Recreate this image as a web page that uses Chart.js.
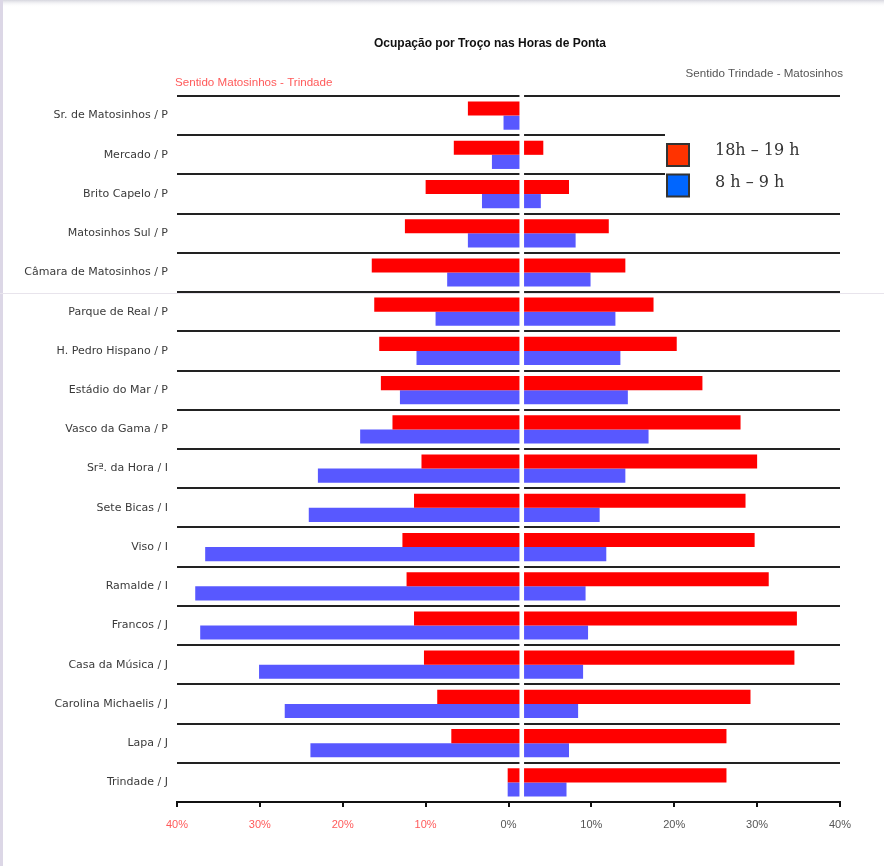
<!doctype html>
<html>

<head>
	<title>Ocupação por Troço nas Horas de Ponta</title>
	<meta charset="UTF-8">
	<script src="https://cdn.jsdelivr.net/npm/chart.js@4.4.1/dist/chart.umd.min.js"></script>
	<style>
		html, body { margin: 0; padding: 0; background: #fff; }
		canvas { display: block; }
	</style>
</head>

<body>
<canvas id="chart-area" width="884" height="866"></canvas>
<script>
	// estações (de cima para baixo)
	var stations = [
		'Sr. de Matosinhos / P', 'Mercado / P', 'Brito Capelo / P', 'Matosinhos Sul / P',
		'Câmara de Matosinhos / P', 'Parque de Real / P', 'H. Pedro Hispano / P', 'Estádio do Mar / P',
		'Vasco da Gama / P', 'Srª. da Hora / I', 'Sete Bicas / I', 'Viso / I', 'Ramalde / I',
		'Francos / J', 'Casa da Música / J', 'Carolina Michaelis / J', 'Lapa / J', 'Trindade / J'
	];

	// Sentido Matosinhos - Trindade (lado esquerdo), em %
	var peakOut    = [6.5, 8.2, 11.6, 14.1, 18.1, 17.8, 17.2, 17.0, 15.6, 12.1, 13.0, 14.4, 13.9, 13.0, 11.8, 10.2, 8.5, 1.7];
	var morningOut = [2.2, 3.6, 4.8, 6.5, 9.0, 10.4, 12.7, 14.7, 19.5, 24.6, 25.7, 38.2, 39.4, 38.8, 31.7, 28.6, 25.5, 1.7];

	// Sentido Trindade - Matosinhos (lado direito), em %
	var peakBack    = [0, 2.6, 5.7, 10.5, 12.5, 15.9, 18.7, 21.8, 26.4, 28.4, 27.0, 28.1, 29.8, 33.2, 32.9, 27.6, 24.7, 24.7];
	var morningBack = [0, 0, 2.3, 6.5, 8.3, 11.3, 11.9, 12.8, 15.3, 12.5, 9.4, 10.2, 7.7, 8.0, 7.4, 6.8, 5.7, 5.4];

	var seriesNames = ['18h – 19 h', '8 h – 9 h'];
	var tickValues = [-40, -30, -20, -10, 0, 10, 20, 30, 40];
	var tickLabels = ['40%', '30%', '20%', '10%', '0%', '10%', '20%', '30%', '40%'];

	var neg = function (v) { return -v; };

	// moldura, título, gap central e legenda
	var pagePlugin = {
		id: 'page',
		beforeDraw: function (chart) {
			var ctx = chart.ctx;
			ctx.save();
			ctx.fillStyle = '#fff';
			ctx.fillRect(0, 0, chart.width, chart.height);
			var g = ctx.createLinearGradient(0, 0, 0, 7);
			g.addColorStop(0, '#d6d6de');
			g.addColorStop(1, 'rgba(255,255,255,0)');
			ctx.fillStyle = g;
			ctx.fillRect(0, 0, chart.width, 7);
			ctx.fillStyle = '#dcd7e6';
			ctx.fillRect(0, 0, 3, chart.height);
			ctx.fillStyle = '#e8e4ec';
			ctx.fillRect(0, 293, chart.width, 1);
			ctx.restore();
		},
		afterDatasetsDraw: function (chart) {
			var ctx = chart.ctx, a = chart.chartArea;
			var zero = chart.scales.xb.getPixelForValue(0);
			ctx.save();
			ctx.fillStyle = '#fff';
			ctx.fillRect(zero - 2.3, a.top - 2, 4.6, a.bottom - a.top);
			ctx.restore();
		},
		afterDraw: function (chart) {
			var ctx = chart.ctx;
			ctx.save();
			ctx.textBaseline = 'middle';

			ctx.font = 'bold 12px "Liberation Sans", Arial, sans-serif';
			ctx.fillStyle = '#111';
			ctx.textAlign = 'center';
			ctx.fillText('Ocupação por Troço nas Horas de Ponta', 490, 44);

			ctx.font = '11.6px "Liberation Sans", Arial, sans-serif';
			ctx.textAlign = 'left';
			ctx.fillStyle = '#ff5a5a';
			ctx.fillText('Sentido Matosinhos - Trindade', 175, 83);
			ctx.textAlign = 'right';
			ctx.fillStyle = '#555';
			ctx.fillText('Sentido Trindade - Matosinhos', 843, 74);

			// legenda
			ctx.fillStyle = '#fff';
			ctx.fillRect(665, 131, 182, 72);
			var boxes = [['#ff3300', 144], ['#0066ff', 174.5]];
			ctx.lineWidth = 2;
			ctx.strokeStyle = '#333';
			ctx.font = '16px "DejaVu Serif", serif';
			ctx.textAlign = 'left';
			ctx.textBaseline = 'alphabetic';
			for (var i = 0; i < boxes.length; i++) {
				ctx.fillStyle = boxes[i][0];
				ctx.fillRect(667, boxes[i][1], 22, 22);
				ctx.strokeRect(667, boxes[i][1], 22, 22);
				ctx.fillStyle = '#333';
				ctx.fillText(seriesNames[i], 715, boxes[i][1] + 10.5 + i * 2);
			}
			ctx.restore();
		}
	};

	var config = {
		type: 'bar',
		data: {
			labels: stations,
			datasets: [
				{ label: seriesNames[0], data: peakOut.map(neg), backgroundColor: '#ff0000', stack: 'pm', xAxisID: 'xb', yAxisID: 'y' },
				{ label: seriesNames[0], data: peakBack, backgroundColor: '#ff0000', stack: 'pm', xAxisID: 'xb', yAxisID: 'y' },
				{ label: seriesNames[1], data: morningOut.map(neg), backgroundColor: '#5858ff', stack: 'am', xAxisID: 'xb', yAxisID: 'y' },
				{ label: seriesNames[1], data: morningBack, backgroundColor: '#5858ff', stack: 'am', xAxisID: 'xb', yAxisID: 'y' }
			]
		},
		options: {
			indexAxis: 'y',
			responsive: false,
			animation: false,
			layout: { padding: { left: 0, right: 44, top: 96, bottom: 30 } },
			datasets: { bar: { categoryPercentage: 0.72, barPercentage: 1, borderWidth: 0 } },
			scales: {
				y: {
					type: 'category',
					offset: true,
					grid: { offset: true, color: '#222', lineWidth: 2, drawTicks: false },
					border: { display: false },
					ticks: { color: '#3a3a3a', font: { family: '"DejaVu Sans", Verdana, sans-serif', size: 11 }, padding: 9 },
					afterFit: function (scale) { scale.width = 177; }
				},
				x: {
					type: 'linear',
					position: 'bottom',
					min: -40,
					max: 40,
					afterBuildTicks: function (scale) {
						scale.ticks = tickValues.map(function (v) { return { value: v }; });
					},
					ticks: {
						autoSkip: false,
						maxRotation: 0,
						padding: 11,
						font: { family: '"Liberation Sans", Arial, sans-serif', size: 11 },
						color: function (c) { return c.tick && c.tick.value < 0 ? '#ff5a5a' : '#555'; },
						callback: function (v, i) { return tickLabels[i]; }
					},
					grid: { drawOnChartArea: false, drawTicks: true, tickLength: 5, color: '#111', lineWidth: 2 },
					border: { display: true, color: '#111', width: 2 },
					afterFit: function (scale) { scale.height = 34; }
				},
				xb: {
					type: 'linear',
					axis: 'x',
					position: 'bottom',
					display: false,
					stacked: true,
					min: -41.6,
					max: 38.4
				}
			},
			plugins: {
				legend: { display: false },
				tooltip: { enabled: false },
				title: { display: false }
			}
		},
		plugins: [pagePlugin]
	};

	window.myChart = new Chart(document.getElementById('chart-area').getContext('2d'), config);
</script>
</body>

</html>
